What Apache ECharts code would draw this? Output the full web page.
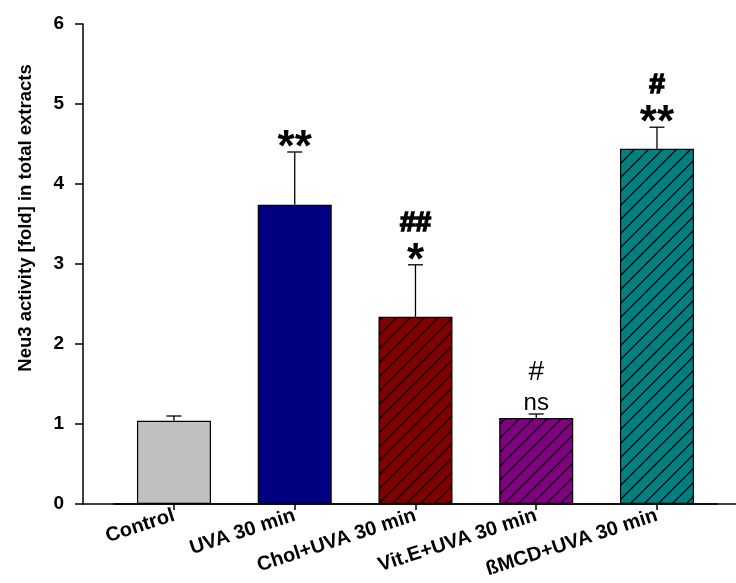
<!DOCTYPE html>
<html>
<head>
<meta charset="utf-8">
<script src="https://cdn.jsdelivr.net/npm/echarts@6/dist/echarts.min.js"></script>
<style>html,body{margin:0;padding:0;background:#fff}#c{width:736px;height:583px}</style>
</head>
<body>
<div id="c"></div>
<script>
const categories = ['Control', 'UVA 30 min', 'Chol+UVA 30 min', 'Vit.E+UVA 30 min', 'ßMCD+UVA 30 min'];
const values = [1.04, 3.74, 2.34, 1.075, 4.44];
const errorTop = [1.10, 4.40, 2.99, 1.125, 4.71];
const annotLower = ['', '**', '*', 'ns', '**'];
const annotUpper = ['', '', '##', '#', '#'];
const yTicks = [0, 1, 2, 3, 4, 5, 6];
const barColors = ['#C0C0C0', '#000080', '#800000', '#800080', '#008080'];
const hatched = [false, false, true, true, true];

function hatch(bg) {
  const s = 14;
  const cv = document.createElement('canvas');
  cv.width = s; cv.height = s;
  const ctx = cv.getContext('2d');
  ctx.fillStyle = bg; ctx.fillRect(0, 0, s, s);
  ctx.strokeStyle = '#000'; ctx.lineWidth = 1.3;
  for (let k = -1; k <= 1; k++) {
    ctx.beginPath(); ctx.moveTo(k * s, s); ctx.lineTo(k * s + s, 0); ctx.stroke();
  }
  return { image: cv, repeat: 'repeat' };
}

const chart = echarts.init(document.getElementById('c'), null, { renderer: 'canvas' });
const font = "'Liberation Sans', Arial, sans-serif";

const barData = values.map((v, i) => ({
  value: v,
  itemStyle: { color: hatched[i] ? hatch(barColors[i]) : barColors[i], borderColor: '#000', borderWidth: 1.2 }
}));

const errData = categories.map((c, i) => [i, errorTop[i], values[i]]);

chart.setOption({
  backgroundColor: '#fff',
  animation: false,
  grid: [
    { left: 83, right: 0, top: 24, height: 480 },
    { left: 113.6, width: 603.75, top: 24, height: 480 }
  ],
  xAxis: [
    { gridIndex: 0, type: 'value', min: 0, max: 1, axisLine: { show: true, lineStyle: { color: '#000', width: 1.5 } },
      axisTick: { show: false }, axisLabel: { show: false }, splitLine: { show: false } },
    { gridIndex: 1, type: 'category', data: categories, boundaryGap: true,
      axisLine: { show: true, lineStyle: { color: '#000', width: 1.5 } },
      axisTick: { show: true, alignWithLabel: true, length: 6, lineStyle: { color: '#000', width: 1.5 } },
      axisLabel: { interval: 0, rotate: 18, margin: 11, color: '#000', fontSize: 20, fontWeight: 'bold', fontFamily: font } }
  ],
  yAxis: [
    { gridIndex: 0, type: 'value', min: yTicks[0], max: yTicks[yTicks.length - 1], interval: 1,
      axisLine: { show: true, lineStyle: { color: '#000', width: 1.5 } },
      axisTick: { show: true, length: 8, lineStyle: { color: '#000', width: 1.5 } },
      axisLabel: { margin: 19, color: '#000', fontSize: 19, fontWeight: 'bold', fontFamily: font },
      splitLine: { show: false },
      name: 'Neu3 activity [fold] in total extracts', nameLocation: 'middle', nameGap: 48,
      nameTextStyle: { color: '#000', fontSize: 18.5, fontWeight: 'bold', fontFamily: font, padding: [0, 0, 0, 92] } },
    { gridIndex: 1, type: 'value', min: 0, max: 6, show: false }
  ],
  series: [
    { type: 'bar', xAxisIndex: 1, yAxisIndex: 1, barWidth: 74, data: barData },
    { type: 'custom', xAxisIndex: 1, yAxisIndex: 1, z: 5, data: errData,
      renderItem: function (params, api) {
        const i = api.value(0);
        const top = api.coord([i, api.value(1)]);
        const base = api.coord([i, api.value(2)]);
        const x = top[0], yc = top[1];
        const children = [
          { type: 'line', shape: { x1: x, y1: base[1], x2: x, y2: yc }, style: { stroke: '#000', lineWidth: 1.3 } },
          { type: 'line', shape: { x1: x - 7.5, y1: yc, x2: x + 7.5, y2: yc }, style: { stroke: '#000', lineWidth: 1.3 } }
        ];
        const lo = annotLower[i], up = annotUpper[i];
        if (lo) {
          let st;
          if (lo.indexOf('*') >= 0) st = { fontSize: 44, fontWeight: 'bold', dy: -3 };
          else st = { fontSize: 24, fontWeight: 'normal', dy: -11 };
          children.push({ type: 'text', style: { text: lo, x: x, y: yc + st.dy, align: 'center', verticalAlign: 'middle',
            fontSize: st.fontSize, fontWeight: st.fontWeight, fontFamily: font, fill: '#000' } });
        }
        if (up) {
          const bold = lo !== 'ns';
          const s = { text: up, x: x, y: yc - 42, align: 'center', verticalAlign: 'middle',
            fontSize: 28, fontWeight: bold ? 'bold' : 'normal', fontFamily: font, fill: '#000' };
          if (bold) { s.stroke = '#000'; s.lineWidth = 1.6; }
          children.push({ type: 'text', style: s });
        }
        return { type: 'group', children: children };
      }
    }
  ]
});
</script>
</body>
</html>
